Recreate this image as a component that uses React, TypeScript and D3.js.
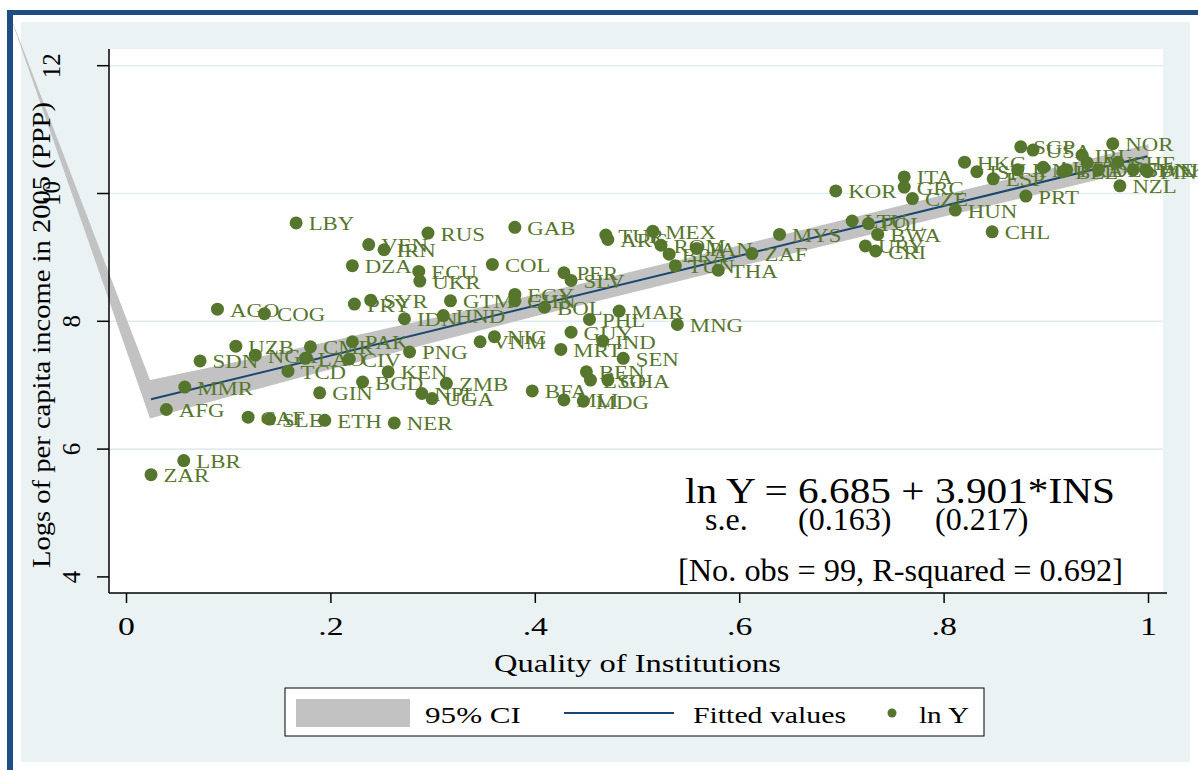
import React from "react";
import * as d3 from "d3";

const codes = ["LBY","VEN","IRN","RUS","DZA","ECU","UKR","AGO","COG","PRY",
"SYR","IDN","UZB","SDN","NGA","CMR","LAO","PAK","CIV","TCD",
"KEN","PNG","MMR","BGD","GIN","AFG","CAF","SLE","ETH","NER",
"NPL","UGA","LBR","ZAR","ZMB","GAB","TUR","ARG","MEX","ROM",
"BRA","PAN","TUN","ZAF","THA","MYS","COL","PER","SLV","EGY",
"GTM","CHN","BOL","HND","NIC","VNM","MRT","GUY","PHL","MAR",
"MNG","IND","SEN","BEN","LSO","GHA","BFA","MLI","MDG","KOR",
"ITA","GRC","CZE","HKG","SGP","USA","NOR","NZL","PRT","HUN",
"CHL","POL","LTU","BWA","URY","CRI","ISR","ESP","JPN","AUT",
"BEL","IRL","AUS","DEU","CHE","SWE","DNK","FIN","FRA"];

const ins = [0.166,0.237,0.252,0.295,0.221,0.286,0.287,0.089,0.135,0.223,
0.239,0.272,0.107,0.072,0.126,0.180,0.175,0.221,0.218,0.158,
0.256,0.277,0.057,0.231,0.189,0.039,0.119,0.140,0.194,0.262,
0.289,0.299,0.056,0.024,0.313,0.380,0.469,0.471,0.515,0.523,
0.531,0.558,0.537,0.612,0.579,0.639,0.358,0.428,0.435,0.380,
0.317,0.380,0.409,0.310,0.360,0.346,0.425,0.435,0.453,0.482,
0.539,0.466,0.486,0.450,0.454,0.471,0.397,0.428,0.447,0.694,
0.761,0.761,0.769,0.820,0.875,0.887,0.965,0.972,0.880,0.811,
0.847,0.726,0.710,0.735,0.723,0.733,0.832,0.848,0.872,0.897,
0.916,0.935,0.940,0.951,0.970,0.985,0.997,0.999,0.920];

const lnY = [9.54,9.20,9.12,9.38,8.87,8.78,8.63,8.19,8.12,8.27,
8.33,8.04,7.61,7.38,7.47,7.60,7.42,7.68,7.41,7.22,
7.21,7.52,6.97,7.05,6.88,6.62,6.50,6.47,6.45,6.41,
6.87,6.79,5.82,5.60,7.03,9.47,9.35,9.28,9.41,9.19,
9.05,9.14,8.87,9.06,8.80,9.36,8.89,8.76,8.64,8.42,
8.32,8.32,8.22,8.09,7.76,7.68,7.56,7.83,8.03,8.16,
7.95,7.69,7.42,7.21,7.08,7.08,6.91,6.77,6.75,10.04,
10.26,10.10,9.92,10.49,10.73,10.68,10.78,10.12,9.96,9.74,
9.40,9.53,9.57,9.36,9.18,9.10,10.34,10.23,10.37,10.41,
10.34,10.60,10.48,10.37,10.49,10.37,10.37,10.34,10.37];

// 95% CI band
const ciX = [0.023, 0.1, 0.2, 0.3, 0.4, 0.5, 0.6, 0.7, 0.8, 0.9, 1.0];
const ciLo = [6.48, 6.82, 7.25, 7.67, 8.08, 8.47, 8.86, 9.25, 9.64, 10.02, 10.41];
const ciHi = [7.08, 7.34, 7.69, 8.05, 8.42, 8.80, 9.19, 9.58, 9.98, 10.37, 10.77];
// stray vertex of the CI polygon (top-left artifact in the original)
const ciAnchor: [number, number] = [-0.116, 12.875];

const intercept = 6.685;
const slope = 3.901;

const xTicks = [0, 0.2, 0.4, 0.6, 0.8, 1];
const xTickLabels = ["0", ".2", ".4", ".6", ".8", "1"];
const yTicks = [4, 6, 8, 10, 12];
const yGrid = [6, 8, 10, 12];

const GREEN = "#57762d";
const NAVY = "#1a476f";
const BAND = "#c2c2c2";
const FRAME = "#1e4d84";
const BG = "#eaf2f3";
const GRID = "#e1ecef";

function ST({ x, y, size, sx = 1, anchor = "start", fill = "#000", children }: any) {
  return (
    <text
      transform={`translate(${x},${y}) scale(${sx},1)`}
      fontSize={size}
      textAnchor={anchor}
      fill={fill}
    >
      {children}
    </text>
  );
}

export default function App() {
  const x = d3.scaleLinear().domain([0, 1]).range([126.5, 1148.5]);
  const y = d3.scaleLinear().domain([4, 12]).range([576.9, 65.7]);

  const plotL = 109, plotR = 1163, plotT = 49, plotB = 593;

  const bandPts: [number, number][] = [
    [x(ciAnchor[0]), y(ciAnchor[1])],
    ...ciX.map((v, i) => [x(v), y(ciLo[i])] as [number, number]),
    ...ciX.map((v, i) => [x(v), y(ciHi[i])] as [number, number]).reverse(),
  ];
  const bandPath = (d3.line()(bandPts) || "") + "Z";

  const [xmin, xmax] = d3.extent(ins) as [number, number];
  const fitPath = d3.line()([
    [x(xmin), y(intercept + slope * xmin)],
    [x(xmax), y(intercept + slope * xmax)],
  ]) || "";

  return (
    <svg
      width={1198}
      height={770}
      style={{ position: "absolute", left: 0, top: 0, background: "#fff" }}
      fontFamily="'Liberation Serif', 'Times New Roman', serif"
    >
      <rect x={0} y={0} width={1198} height={770} fill="#fff" />
      <rect x={21} y={22} width={1169} height={740} fill={BG} />
      <rect x={plotL} y={plotT} width={plotR - plotL} height={plotB - plotT} fill="#fff" />

      {yGrid.map((t) => (
        <line key={t} x1={plotL} x2={plotR} y1={y(t)} y2={y(t)} stroke={GRID} strokeWidth={1.6} />
      ))}

      {/* CI band */}
      <path d={bandPath} fill={BAND} stroke="none" />
      {/* fitted line */}
      <path d={fitPath} stroke={NAVY} strokeWidth={2} fill="none" />

      {/* points */}
      {ins.map((v, i) => (
        <circle key={"c" + i} cx={x(v)} cy={y(lnY[i])} r={6.5} fill={GREEN} />
      ))}
      {ins.map((v, i) => (
        <ST key={"t" + i} x={x(v) + 12.5} y={y(lnY[i]) + 7.5} size={19.5} sx={1.17} fill={GREEN}>
          {codes[i]}
        </ST>
      ))}

      {/* axes */}
      <line x1={plotL} x2={plotL} y1={plotT} y2={plotB} stroke="#000" strokeWidth={1.5} />
      <line x1={plotL} x2={plotR + 4} y1={plotB} y2={plotB} stroke="#000" strokeWidth={1.5} />
      {yTicks.map((t) => (
        <line key={"yt" + t} x1={97} x2={plotL} y1={y(t)} y2={y(t)} stroke="#000" strokeWidth={1.5} />
      ))}
      {yTicks.map((t) => (
        <text
          key={"yl" + t}
          transform={`translate(${t >= 10 ? 60 : 80},${y(t)}) rotate(-90)`}
          fontSize={25}
          textAnchor="middle"
        >
          {String(t)}
        </text>
      ))}
      {xTicks.map((t) => (
        <line key={"xt" + t} x1={x(t)} x2={x(t)} y1={plotB} y2={plotB + 10} stroke="#000" strokeWidth={1.5} />
      ))}
      {xTicks.map((t, i) => (
        <ST key={"xl" + t} x={x(t)} y={635} size={25} sx={1.35} anchor="middle">
          {xTickLabels[i]}
        </ST>
      ))}

      {/* axis titles */}
      <text
        transform={`translate(50,335) rotate(-90)`}
        fontSize={26}
        textAnchor="middle"
        textLength={466}
        lengthAdjust="spacingAndGlyphs"
      >
        Logs of per capita income in 2005 (PPP)
      </text>
      <text x={494} y={672} fontSize={25} textLength={287} lengthAdjust="spacingAndGlyphs">
        Quality of Institutions
      </text>

      {/* annotation */}
      <text x={685} y={503} fontSize={36} textLength={430} lengthAdjust="spacingAndGlyphs">
        ln Y = 6.685 + 3.901*INS
      </text>
      <text x={705} y={530} fontSize={32}>s.e.</text>
      <text x={798} y={530} fontSize={32}>(0.163)</text>
      <text x={935} y={530} fontSize={32}>(0.217)</text>
      <text x={678} y={581} fontSize={32} textLength={445} lengthAdjust="spacingAndGlyphs">
        [No. obs = 99, R-squared = 0.692]
      </text>

      {/* legend */}
      <rect x={285} y={688} width={699} height={48} fill="#fff" stroke="#000" strokeWidth={1} />
      <rect x={296} y={699} width={114} height={28} fill={BAND} />
      <text x={425} y={723} fontSize={24} textLength={96} lengthAdjust="spacingAndGlyphs">95% CI</text>
      <line x1={564} x2={674} y1={713} y2={713} stroke={NAVY} strokeWidth={2} />
      <text x={693} y={723} fontSize={24} textLength={153} lengthAdjust="spacingAndGlyphs">Fitted values</text>
      <circle cx={892} cy={713} r={4.5} fill={GREEN} />
      <text x={919} y={723} fontSize={24} textLength={50} lengthAdjust="spacingAndGlyphs">ln Y</text>

      {/* frame */}
      <rect x={7} y={10} width={1191} height={5} fill={FRAME} />
      <rect x={7} y={10} width={6} height={760} fill={FRAME} />
    </svg>
  );
}
